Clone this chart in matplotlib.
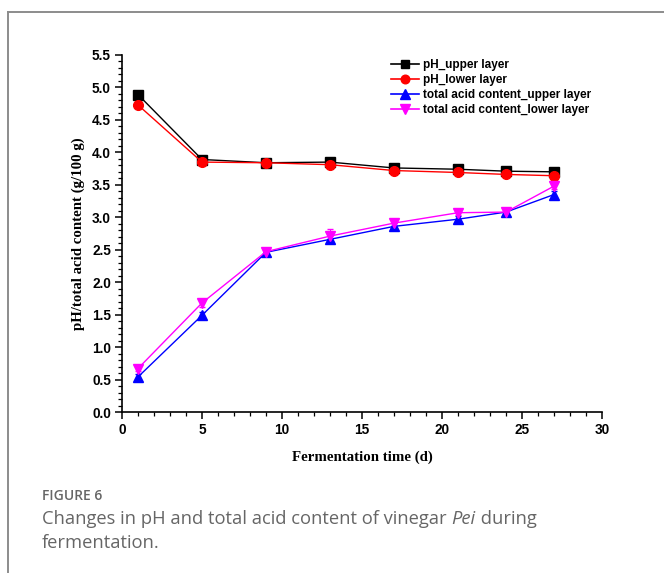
import numpy as np
import matplotlib
matplotlib.use('Agg')
import matplotlib.pyplot as plt
from matplotlib.lines import Line2D
from matplotlib.ticker import MultipleLocator, FormatStrFormatter

# fermentation days
days = [1, 5, 9, 13, 17, 21, 24, 27]

ph_upper = [4.89, 3.89, 3.84, 3.85, 3.76, 3.74, 3.71, 3.70]
ph_lower = [4.73, 3.85, 3.84, 3.81, 3.72, 3.69, 3.66, 3.64]
acid_upper = [0.54, 1.49, 2.46, 2.66, 2.86, 2.97, 3.08, 3.35]
acid_lower = [0.67, 1.68, 2.47, 2.71, 2.91, 3.07, 3.08, 3.48]

ph_upper_err = [0.02, 0.03, 0.02, 0.02, 0.02, 0.02, 0.02, 0.02]
ph_lower_err = [0.02, 0.04, 0.03, 0.03, 0.03, 0.03, 0.03, 0.03]
acid_upper_err = [0.04, 0.05, 0.04, 0.06, 0.05, 0.05, 0.05, 0.06]
acid_lower_err = [0.04, 0.06, 0.04, 0.11, 0.05, 0.04, 0.06, 0.05]

labels = ['pH_upper layer', 'pH_lower layer',
          'total acid content_upper layer', 'total acid content_lower layer']
colors = ['black', '#ff0000', '#0000ff', '#ff00ff']
markers = ['s', 'o', '^', 'v']
sizes = [6.5, 7, 7.5, 7.5]

W, H = 664, 575
fig = plt.figure(figsize=(W / 100, H / 100), dpi=100)
ax = fig.add_axes([122 / W, 1 - 412 / H, 480 / W, 357 / H])

series = [(ph_upper, ph_upper_err), (ph_lower, ph_lower_err),
          (acid_upper, acid_upper_err), (acid_lower, acid_lower_err)]
for (vals, err), c, m, s in zip(series, colors, markers, sizes):
    ax.errorbar(days, vals, yerr=err, color=c, marker=m, ms=s,
                lw=1.0, capsize=2.5, elinewidth=0.8)

ax.set_xlim(0, 30)
ax.set_ylim(0, 5.5)
ax.xaxis.set_major_locator(MultipleLocator(5))
ax.xaxis.set_minor_locator(MultipleLocator(1))
ax.yaxis.set_major_locator(MultipleLocator(0.5))
ax.yaxis.set_minor_locator(MultipleLocator(0.1))
ax.yaxis.set_major_formatter(FormatStrFormatter('%.1f'))

ax.spines['top'].set_visible(False)
ax.spines['right'].set_visible(False)
ax.spines['left'].set_linewidth(1.2)
ax.spines['bottom'].set_linewidth(1.2)
ax.tick_params(which='major', direction='out', length=5, width=1.1, pad=3)
ax.tick_params(which='minor', direction='out', length=3, width=0.9)
for t in ax.get_xticklabels() + ax.get_yticklabels():
    t.set_fontfamily('Liberation Sans')
    t.set_fontweight('bold')
    t.set_fontsize(9.8)

ax.set_xlabel('Fermentation time (d)', fontfamily='Liberation Serif',
              fontweight='bold', fontsize=10.7, labelpad=10)
ax.set_ylabel('pH/total acid content (g/100 g)', fontfamily='Liberation Serif',
              fontweight='bold', fontsize=10.7, labelpad=5)

handles = [Line2D([], [], color=c, marker=m, ms=s - 0.8, lw=1.2)
           for c, m, s in zip(colors, markers, sizes)]
leg = fig.legend(handles, labels, loc='upper left', bbox_to_anchor=(385 / W, 1 - 53 / H),
                 frameon=False, borderpad=0, handlelength=2.4, handletextpad=0.3,
                 labelspacing=0.25, prop={'family': 'Liberation Sans', 'weight': 'bold', 'size': 8.5})

# card border
fig.add_artist(Line2D([8 / W, 1], [1 - 12 / H, 1 - 12 / H], color='#8c8c8c', lw=1.4))
fig.add_artist(Line2D([8 / W, 8 / W], [1 - 12 / H, 1 - 572 / H], color='#8c8c8c', lw=1.4))

# caption
cap_color = '#666666'
fs = 13.2
fig.text(42 / W, 1 - 500 / H, 'FIGURE 6', fontfamily='Open Sans', fontweight='semibold',
         fontsize=10, color=cap_color, va='baseline')
renderer = fig.canvas.get_renderer()
t1 = fig.text(42 / W, 1 - 524 / H, 'Changes in pH and total acid content of vinegar ',
              fontfamily='Open Sans', fontsize=fs, color=cap_color, va='baseline')
bb = t1.get_window_extent(renderer)
t2 = fig.text(bb.x1 / W, 1 - 524 / H, 'Pei', fontfamily='Open Sans', style='italic',
              fontsize=fs, color=cap_color, va='baseline')
bb2 = t2.get_window_extent(renderer)
fig.text(bb2.x1 / W, 1 - 524 / H, ' during', fontfamily='Open Sans',
         fontsize=fs, color=cap_color, va='baseline')
fig.text(42 / W, 1 - 548 / H, 'fermentation.', fontfamily='Open Sans',
         fontsize=fs, color=cap_color, va='baseline')

fig.savefig('out.png', dpi=100)
